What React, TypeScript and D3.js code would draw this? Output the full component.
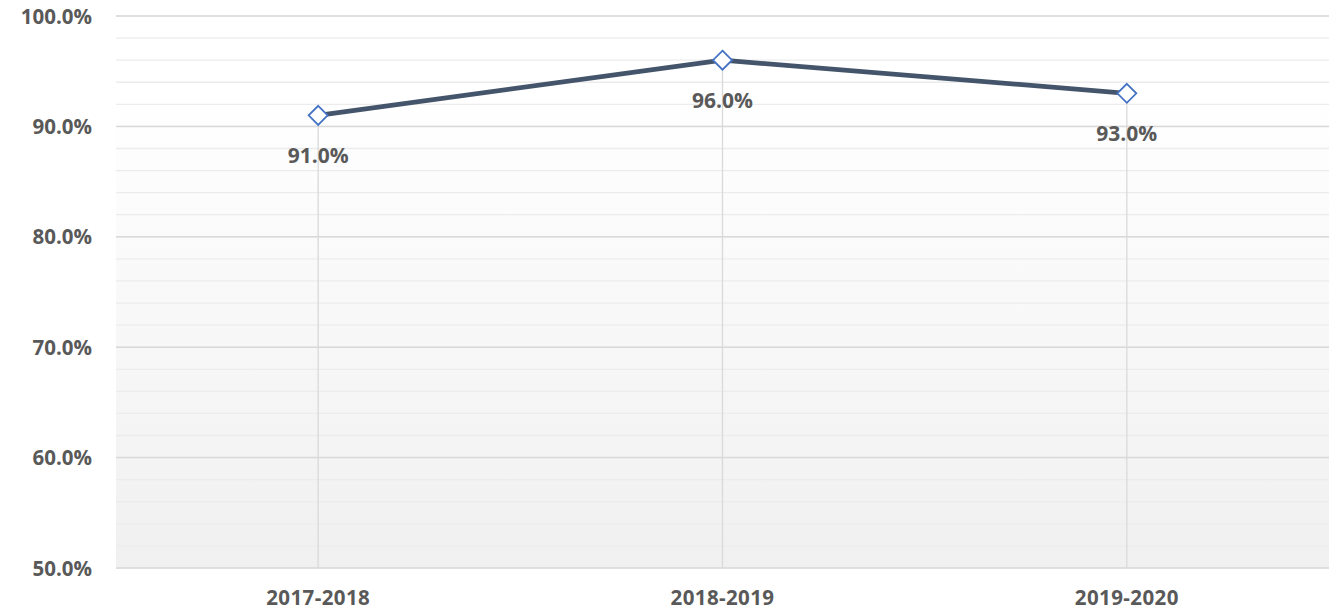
import React from "react";
import * as d3 from "d3";

const categories = ["2017-2018", "2018-2019", "2019-2020"];
const values = [0.91, 0.96, 0.93];
const majorTicks = [0.5, 0.6, 0.7, 0.8, 0.9, 1.0];
const minorTicks = d3.range(0.5, 1.0001, 0.02);

const W = 1340, H = 611;
const M = { left: 116, right: 11, top: 16, bottom: 43 };

export default function App() {
  const x = d3.scaleBand<string>().domain(categories).range([M.left, W - M.right]);
  const y = d3.scaleLinear().domain([0.5, 1.0]).range([H - M.bottom, M.top]);
  const cx = (c: string) => (x(c) as number) + x.bandwidth() / 2;
  const fmt = d3.format(".1%");
  const line = d3.line<number>().x((_, i) => cx(categories[i])).y((v) => y(v));
  const font = "'Open Sans', sans-serif";
  const textColor = "#595959";
  return (
    <svg width={W} height={H} style={{ position: "absolute", left: 0, top: 0, background: "#fff" }}>
      <defs>
        <linearGradient id="bg" x1="0" y1="0" x2="0" y2="1">
          <stop offset="0" stopColor="#ffffff" />
          <stop offset="0.15" stopColor="#ffffff" />
          <stop offset="1" stopColor="#f0f0f0" />
        </linearGradient>
      </defs>
      <rect x={M.left} y={M.top} width={W - M.left - M.right} height={H - M.top - M.bottom} fill="url(#bg)" />
      {minorTicks.map((t, i) => (
        <line key={"mi" + i} x1={M.left} x2={W - M.right} y1={y(t)} y2={y(t)} stroke="#ececec" strokeWidth={1.3} />
      ))}
      {majorTicks.map((t) => (
        <line key={"ma" + t} x1={M.left} x2={W - M.right} y1={y(t)} y2={y(t)} stroke="#d9d9d9" strokeWidth={1.5} />
      ))}
      {categories.map((c, i) => (
        <line key={"dl" + c} x1={cx(c)} x2={cx(c)} y1={y(values[i])} y2={y(0.5)} stroke="#d9d9d9" strokeWidth={1.3} />
      ))}
      {majorTicks.map((t) => (
        <text key={"yl" + t} x={92} y={y(t) + 7.5} textAnchor="end" fontFamily={font} fontWeight="bold" fontSize={20.5} fill={textColor}>
          {fmt(t)}
        </text>
      ))}
      {categories.map((c) => (
        <text key={"xl" + c} x={cx(c)} y={605} textAnchor="middle" fontFamily={font} fontWeight="bold" fontSize={20.5} letterSpacing={0.4} fill={textColor}>
          {c}
        </text>
      ))}
      <path d={line(values) || ""} fill="none" stroke="#44546a" strokeWidth={4.8} strokeLinejoin="round" />
      {categories.map((c, i) => {
        const px = cx(c), py = y(values[i]), r = 9.5;
        return (
          <path key={"mk" + c} d={`M${px},${py - r}L${px + r},${py}L${px},${py + r}L${px - r},${py}Z`} fill="#ffffff" stroke="#4472c4" strokeWidth={1.8} />
        );
      })}
      {categories.map((c, i) => (
        <text key={"dlb" + c} x={cx(c)} y={y(values[i]) + 47.5} textAnchor="middle" fontFamily={font} fontWeight="bold" fontSize={21} fill={textColor}>
          {fmt(values[i])}
        </text>
      ))}
    </svg>
  );
}
